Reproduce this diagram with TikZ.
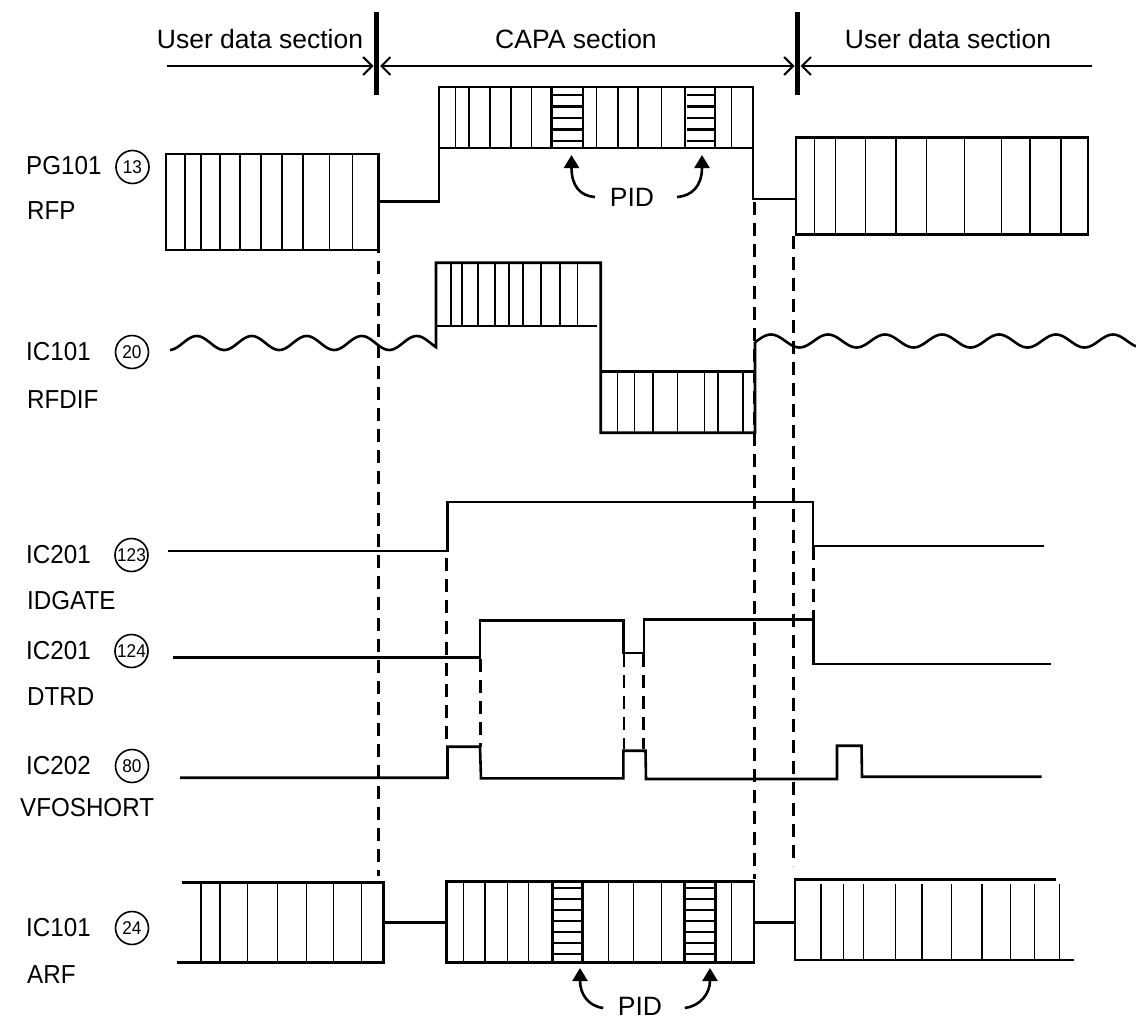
\documentclass[tikz,border=0pt]{standalone}
\usepackage{fontspec}
\setmainfont{Liberation Sans}
\newfontfamily\labf[FakeStretch=0.93]{Liberation Sans}
\newfontfamily\hdrf{Liberation Sans}
\usetikzlibrary{arrows.meta}
\begin{document}
\begin{tikzpicture}[x=1pt,y=-1pt,
  sig/.style={line width=2.6pt, line join=miter},
  thinl/.style={line width=1.2pt},
  hatchl/.style={line width=2.8pt},
  dsh/.style={line width=2.8pt, dash pattern=on 13pt off 8pt},
  barl/.style={line width=4.5pt},
  harrow/.style={line width=2pt},
  barb/.tip={Straight Barb[length=9pt,width=18pt,line width=2pt]},
  pidarrow/.style={line width=2.6pt,-{Triangle[length=13pt,width=15pt]}},
  hdr/.style={font=\hdrf\fontsize{26.5}{30}\selectfont, inner sep=0pt},
  lab/.style={font=\labf\fontsize{26}{30}\selectfont, anchor=west, inner sep=0pt},
  num/.style={circle, draw, line width=1.6pt, minimum size=33pt, inner sep=0pt, font=\labf\fontsize{18.5}{20}\selectfont}
]
\useasboundingbox (0,0) rectangle (1136,1023);

% ---------------- header ----------------
\node[hdr] (u1) at (260,39) {User data section};
\node[hdr] (capa) at (576,39) {CAPA section};
\node[hdr] (u2) at (948,39) {User data section};
\coordinate (b1t) at (376.7,12); \coordinate (b1b) at (376.7,95);
\coordinate (b2t) at (797.5,12); \coordinate (b2b) at (797.5,95);
\draw[barl] (b1t) -- (b1b);
\draw[barl] (b2t) -- (b2b);
\coordinate (a1s) at (167,66);   \coordinate (a1e) at (373.5,66);
\coordinate (a2s) at (380,66);   \coordinate (a2e) at (794.5,66);
\coordinate (a3s) at (1092,66);  \coordinate (a3e) at (800.5,66);
\draw[harrow,-barb] (a1s) -- (a1e);
\draw[harrow,barb-barb] (a2s) -- (a2e);
\draw[harrow,-barb] (a3s) -- (a3e);

% ---------------- labels ----------------
\node[lab] (l1a) at (26,166) {PG101};  \node[lab] (l1b) at (27,211) {RFP};
\node[num] (n1) at (132.5,167) {13};
\node[lab] (l2a) at (26,352) {IC101};  \node[lab] (l2b) at (27,400) {RFDIF};
\node[num] (n2) at (132,352) {20};
\node[lab] (l3a) at (26,555) {IC201};  \node[lab] (l3b) at (27,601) {IDGATE};
\node[num] (n3) at (131.5,555) {123};
\node[lab] (l4a) at (26,651) {IC201};  \node[lab] (l4b) at (27,697) {DTRD};
\node[num] (n4) at (131.5,651) {124};
\node[lab] (l5a) at (26,766) {IC202};  \node[lab] (l5b) at (20,808) {VFOSHORT};
\node[num] (n5) at (132,766) {80};
\node[lab] (l6a) at (26,928) {IC101};  \node[lab] (l6b) at (27,975) {ARF};
\node[num] (n6) at (132,928) {24};

% ---------------- dashed guides ----------------
\coordinate (d1t) at (378.7,156); \coordinate (d1b) at (378.7,876);
\coordinate (d2t) at (754.3,202); \coordinate (d2b) at (754.3,879);
\coordinate (d3t) at (793.8,236); \coordinate (d3b) at (793.8,866);
\coordinate (d4t) at (446.7,558); \coordinate (d4b) at (446.7,740);
\coordinate (d5t) at (480.5,659); \coordinate (d5b) at (480.5,747);
\coordinate (d6t) at (624,654);   \coordinate (d6b) at (624,749);
\coordinate (d7t) at (643.5,654); \coordinate (d7b) at (643.5,749);
\coordinate (d8t) at (813.7,547); \coordinate (d8b) at (813.7,619);
\foreach \a in {1,...,8} \draw[dsh] (d\a t) -- (d\a b);

% ---------------- PG101 RFP ----------------
\draw[sig] (166,154) rectangle (378.7,250);
\foreach \x in {185,201,220,240,261,282,303,329.3,352.7} \draw[thinl] (\x,154) -- (\x,250);
\draw[sig] (378.7,201.7) -- (439,201.7) -- (439,87) -- (753,87) -- (753,199) -- (796,199);
\draw[sig] (439,148) -- (753,148);
\foreach \x in {455.7,469,490,511,531.7,596.7,618,638,661.7,731.7} \draw[thinl] (\x,87) -- (\x,148);
\foreach \l/\r in {551.7/583,685/715} {
  \draw[sig] (\l,87) -- (\l,148) (\r,87) -- (\r,148);
  \foreach \y in {95,106.5,118,129.5,141} \draw[hatchl] (\l+1.5,\y) -- (\r-1.5,\y);
}
\draw[sig] (796,137.7) rectangle (1088,234.3);
\foreach \x in {814.4,835.2,865.6,896,926.5,964.8,1001.7,1030,1060.9} \draw[thinl] (\x,137.7) -- (\x,234.3);

\node[hdr] (pidt) at (632,197) {PID};
\coordinate (pt1) at (595,197);  \coordinate (ph1) at (571.5,155);
\coordinate (pt2) at (677,197);  \coordinate (ph2) at (702,155);
\draw[pidarrow] (pt1) .. controls (580,196) and (571.5,186) .. (ph1);
\draw[pidarrow] (pt2) .. controls (692,196) and (702,186) .. (ph2);

% ---------------- IC101 RFDIF ----------------
\draw[sig] plot[domain=170:436,samples=150] (\x,{343-7*cos((\x-196.7)*6.5455)})
   -- (436,262.7) -- (600.7,262.7) -- (600.7,432.7) -- (755,432.7) -- (755,342.2)
   -- plot[domain=755:1136,samples=200] (\x,{341-6.5*cos((\x-771)*6.3158)});
\draw[sig] (436,326) -- (596.7,326);
\draw[sig] (600.7,371.7) -- (755,371.7);
\foreach \x in {451,462,478,495,509,523,541,560,577.7} \draw[thinl] (\x,262.7) -- (\x,326);
\foreach \x in {617.8,634.2,653,677.6,704.3,718,742.9} \draw[thinl] (\x,371.7) -- (\x,432.7);

% ---------------- IC201 IDGATE ----------------
\draw[sig] (168,551) -- (447.5,551) -- (447.5,502) -- (813,502) -- (813,546) -- (1044,546);

% ---------------- IC201 DTRD ----------------
\draw[sig] (173,657.3) -- (480,657.3) -- (480,620.5) -- (623.5,620.5) -- (623.5,653)
   -- (644,653) -- (644,619.5) -- (813.5,619.5) -- (813.5,664) -- (1050.6,664);

% ---------------- IC202 VFOSHORT ----------------
\draw[sig] (180,777.7) -- (447.5,777.7) -- (447.5,746.7) -- (480,746.7) -- (481,778.3)
   -- (623.3,778.3) -- (623.3,750.7) -- (645.5,750.7) -- (646,779) -- (837,779)
   -- (837,745.7) -- (861.5,745.7) -- (862,776.7) -- (1041.7,776.7);

% ---------------- IC101 ARF ----------------
\draw[sig] (181.7,882.3) -- (383.3,882.3) -- (383.3,962.3) -- (177,962.3);
\foreach \x in {201,220,247.7,277.3,306.7,333.3,361.7} \draw[thinl] (\x,882.3) -- (\x,962.3);
\draw[sig] (383.3,922.7) -- (446.7,922.7);
\draw[sig] (446.7,881.7) rectangle (753.8,962.7);
\foreach \x in {463.3,485,507.7,528.3,608.3,633.3,661.5,731.6} \draw[thinl] (\x,881.7) -- (\x,962.7);
\foreach \l/\r in {552.3/582.3,684.4/715.6} {
  \draw[sig] (\l,881.7) -- (\l,962.7) (\r,881.7) -- (\r,962.7);
  \foreach \y in {888,899,910,921,932,943,954} \draw[hatchl] (\l+1.5,\y) -- (\r-1.5,\y);
}
\draw[sig] (753.8,922.7) -- (795,922.7);
\draw[sig] (1056.4,879.3) -- (795,879.3) -- (795,960) -- (1073.5,960);
\foreach \x in {821,843.8,863.2,895.7,922,951.5,981.9,1010.3,1034.2,1059.1} \draw[thinl] (\x,884) -- (\x,961);

\node[hdr] (pidb) at (640,1006) {PID};
\coordinate (qt1) at (603.3,1008); \coordinate (qh1) at (580,968);
\coordinate (qt2) at (684.8,1008); \coordinate (qh2) at (710,968);
\draw[pidarrow] (qt1) .. controls (588,1006) and (580,994) .. (qh1);
\draw[pidarrow] (qt2) .. controls (700,1006) and (710,994) .. (qh2);
\end{tikzpicture}
\end{document}
